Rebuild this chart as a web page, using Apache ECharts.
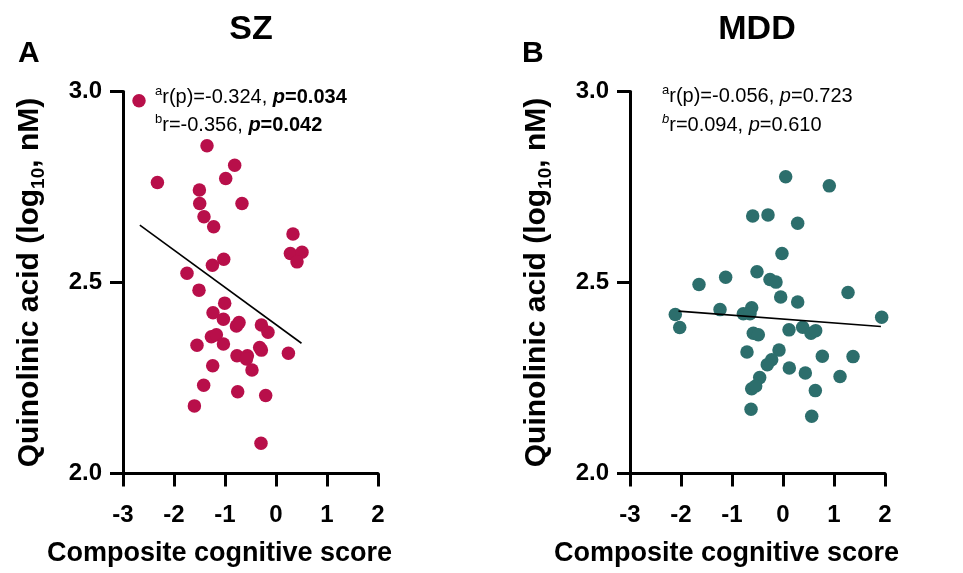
<!DOCTYPE html>
<html><head><meta charset="utf-8">
<script src="https://cdn.jsdelivr.net/npm/echarts@6/dist/echarts.min.js"></script>
<style>html,body{margin:0;padding:0;background:#fff;} #main{width:963px;height:573px;}</style>
</head><body><div id="main"></div>
<script>
// ---- data ----
const szX = [-2.686,-1.353,-0.810,-0.986,-2.325,-1.502,-1.496,-0.667,-1.412,-1.222,0.333,0.282,0.510,0.412,-1.025,-1.247,-1.745,
  -1.510,-1.006,-1.235,-1.031,-0.776,-0.725,-0.286,-0.157,-1.267,-1.169,-1.549,-1.031,-0.320,-0.286,0.243,-0.765,-0.561,-0.580,
  -1.241,-0.471,-1.418,-0.751,-0.202,-1.600,-0.294];
const szY = [2.976,2.858,2.807,2.772,2.762,2.742,2.707,2.707,2.672,2.646,2.627,2.576,2.579,2.554,2.561,2.545,2.524,
  2.480,2.446,2.421,2.404,2.386,2.395,2.389,2.370,2.358,2.363,2.336,2.339,2.330,2.323,2.315,2.308,2.308,2.300,
  2.282,2.271,2.231,2.214,2.204,2.177,2.079];
const mddX = [0.053,0.908,-0.594,-0.294,0.288,-0.020,-0.510,-1.124,-1.647,-0.255,-0.137,-0.045,0.288,1.275,-2.112,-2.025,
  -1.235,-0.778,-0.614,-0.647,-0.582,-0.484,0.118,0.386,0.549,0.641,1.935,-0.706,-0.078,0.771,1.373,-0.222,-0.308,0.124,
  0.438,1.118,-0.457,-0.614,-0.535,0.634,-0.627,0.563];
const mddY = [2.777,2.753,2.674,2.677,2.655,2.576,2.528,2.514,2.495,2.508,2.501,2.462,2.449,2.474,2.416,2.382,
  2.429,2.418,2.434,2.418,2.367,2.363,2.376,2.383,2.367,2.374,2.409,2.318,2.323,2.307,2.306,2.298,2.285,2.276,
  2.263,2.254,2.251,2.222,2.229,2.217,2.168,2.150];
const szFitX = [-2.67, 0.50];
const szFitY = [2.650, 2.341];
const mddFitX = [-2.05, 1.92];
const mddFitY = [2.425, 2.385];
const xMin = -3, xMax = 2, xStep = 1;
const yMin = 2.0, yMax = 3.0, yStep = 0.5;
const panelTitles = ['SZ', 'MDD'];
const panelLetters = ['A', 'B'];
const xTitle = 'Composite cognitive score';
const yTitle = 'Quinolinic acid (log{sub|10}, nM)';
const szStats = ['{sup|a}r(p)=-0.324, {bi|p}{b|=0.034}', '{sup|b}r=-0.356, {bi|p}{b|=0.042}'];
const mddStats = ['{sup|a}r(p)=-0.056, {i|p}=0.723', '{supi|b}r=0.094, {i|p}=0.610'];
const szColor = '#B80F4A';
const mddColor = '#2C6E6C';

const zip = (a, b) => a.map((v, i) => [v, b[i]]);
const FF = 'Arial, "Liberation Sans", Helvetica, sans-serif';

function xAxisCfg(gi) {
  return {
    gridIndex: gi, type: 'value', min: xMin, max: xMax, interval: xStep,
    name: xTitle, nameLocation: 'middle', nameGap: 67,
    nameTextStyle: {fontFamily: FF, fontSize: 27, fontWeight: 'bold', color: '#000', padding: [0, 62, 0, 0]},
    axisLine: {show: true, onZero: false, lineStyle: {color: '#000', width: 3}},
    axisTick: {show: true, length: 13, lineStyle: {color: '#000', width: 3}},
    axisLabel: {fontFamily: FF, fontSize: 24, fontWeight: 'bold', color: '#000', margin: 30},
    splitLine: {show: false}
  };
}
function yAxisCfg(gi) {
  return {
    gridIndex: gi, type: 'value', min: yMin, max: yMax, interval: yStep,
    name: yTitle, nameLocation: 'middle', nameRotate: 90, nameGap: 75,
    nameTextStyle: {fontFamily: FF, fontSize: 30, fontWeight: 'bold', color: '#000', lineHeight: 36,
      rich: {sub: {fontFamily: FF, fontSize: 19, fontWeight: 'bold', color: '#000', verticalAlign: 'bottom', lineHeight: 24}}},
    axisLine: {show: true, onZero: false, lineStyle: {color: '#000', width: 3}},
    axisTick: {show: true, length: 13, lineStyle: {color: '#000', width: 3}},
    axisLabel: {fontFamily: FF, fontSize: 24, fontWeight: 'bold', color: '#000', margin: 21,
      formatter: v => v.toFixed(1)},
    splitLine: {show: false}
  };
}
const statRich = {
  sup: {fontFamily: FF, fontSize: 13, color: '#000', verticalAlign: 'top', lineHeight: 15},
  supi: {fontFamily: FF, fontSize: 13, fontStyle: 'italic', color: '#000', verticalAlign: 'top', lineHeight: 15},
  b: {fontFamily: FF, fontSize: 20, fontWeight: 'bold', color: '#000', lineHeight: 24},
  bi: {fontFamily: FF, fontSize: 20, fontWeight: 'bold', fontStyle: 'italic', color: '#000', lineHeight: 24},
  i: {fontFamily: FF, fontSize: 20, fontStyle: 'italic', color: '#000', lineHeight: 24}
};
function statText(x, y, str) {
  return {type: 'text', left: x, top: y, style: {text: str, fontFamily: FF, fontSize: 20, fill: '#000', lineHeight: 24, rich: statRich}};
}

const chart = echarts.init(document.getElementById('main'), null, {renderer: 'canvas'});
chart.setOption({
  backgroundColor: '#fff',
  animation: false,
  grid: [
    {left: 123, top: 91.5, width: 255, height: 382},
    {left: 630, top: 91.5, width: 255, height: 382}
  ],
  xAxis: [xAxisCfg(0), xAxisCfg(1)],
  yAxis: [yAxisCfg(0), yAxisCfg(1)],
  series: [
    {type: 'scatter', xAxisIndex: 0, yAxisIndex: 0, data: zip(szX, szY), symbolSize: 13.5,
      itemStyle: {color: szColor, opacity: 1}},
    {type: 'line', xAxisIndex: 0, yAxisIndex: 0, data: zip(szFitX, szFitY), symbol: 'none',
      lineStyle: {color: '#000', width: 1.6}},
    {type: 'scatter', xAxisIndex: 1, yAxisIndex: 1, data: zip(mddX, mddY), symbolSize: 13.5,
      itemStyle: {color: mddColor, opacity: 1}},
    {type: 'line', xAxisIndex: 1, yAxisIndex: 1, data: zip(mddFitX, mddFitY), symbol: 'none',
      lineStyle: {color: '#000', width: 1.6}}
  ],
  graphic: [
    {type: 'text', x: 251, y: 30, style: {text: panelTitles[0], fontFamily: FF, fontSize: 34, fontWeight: 'bold', fill: '#000', textAlign: 'center', textVerticalAlign: 'middle'}},
    {type: 'text', x: 757, y: 30, style: {text: panelTitles[1], fontFamily: FF, fontSize: 34, fontWeight: 'bold', fill: '#000', textAlign: 'center', textVerticalAlign: 'middle'}},
    {type: 'text', x: 18, y: 54, style: {text: panelLetters[0], fontFamily: FF, fontSize: 30, fontWeight: 'bold', fill: '#000', textAlign: 'left', textVerticalAlign: 'middle'}},
    {type: 'text', x: 522, y: 54, style: {text: panelLetters[1], fontFamily: FF, fontSize: 30, fontWeight: 'bold', fill: '#000', textAlign: 'left', textVerticalAlign: 'middle'}},
    statText(155, 85, szStats[0]),
    statText(155, 113, szStats[1]),
    statText(662, 84, mddStats[0]),
    statText(662, 113, mddStats[1])
  ]
});
</script></body></html>
